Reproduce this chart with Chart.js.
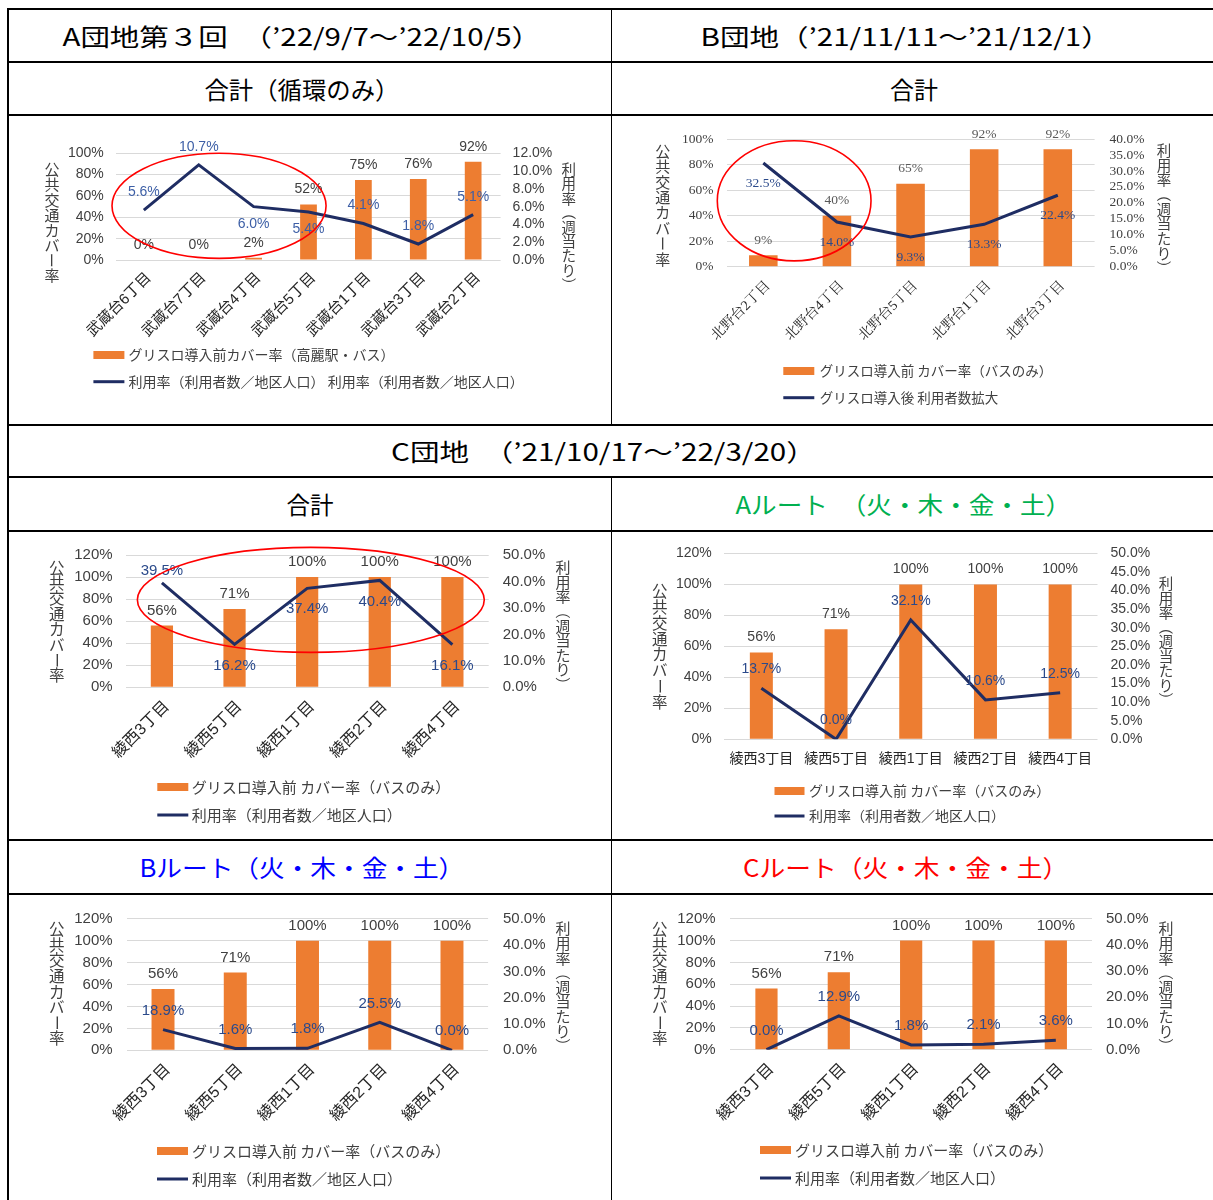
<!DOCTYPE html>
<html><head><meta charset="utf-8">
<script src="https://cdn.jsdelivr.net/npm/chart.js@4.4.1/dist/chart.umd.min.js"></script>
<style>
html,body{margin:0;padding:0;background:#fff;}
#page{position:relative;width:1213px;height:1200px;overflow:hidden;background:#fff;}
canvas{position:absolute;}
.hl{position:absolute;left:7px;width:1206px;height:2px;background:#000;z-index:5;}
.vl{position:absolute;background:#000;z-index:5;}
.hd{position:absolute;white-space:nowrap;font-family:'Noto Sans CJK JP',sans-serif;font-size:24px;line-height:28px;height:28px;transform-origin:center center;z-index:6;}
</style></head><body>
<div id="page">
  <canvas id="cA" width="602" height="308" style="left:9px;top:116px"></canvas>
  <canvas id="cB" width="601" height="308" style="left:612px;top:116px"></canvas>
  <canvas id="cCT" width="602" height="307" style="left:9px;top:532px"></canvas>
  <canvas id="cCA" width="601" height="307" style="left:612px;top:532px"></canvas>
  <canvas id="cCB" width="602" height="305" style="left:9px;top:895px"></canvas>
  <canvas id="cCC" width="601" height="305" style="left:612px;top:895px"></canvas>

  <div class="hl" style="top:8px"></div>
  <div class="hl" style="top:61px"></div>
  <div class="hl" style="top:114px"></div>
  <div class="hl" style="top:424px"></div>
  <div class="hl" style="top:476px"></div>
  <div class="hl" style="top:530px"></div>
  <div class="hl" style="top:839px"></div>
  <div class="hl" style="top:893px"></div>
  <div class="vl" style="left:7px;top:8px;width:2px;height:1192px"></div>
  <div class="vl" style="left:611px;top:9px;width:1px;height:416px"></div>
  <div class="vl" style="left:611px;top:477px;width:1px;height:723px"></div>
</div>
<script>
// ---------------- DATA ----------------
const catsA = ['武蔵台6丁目','武蔵台7丁目','武蔵台4丁目','武蔵台5丁目','武蔵台1丁目','武蔵台3丁目','武蔵台2丁目'];
const coverA = [0, 0, 2, 52, 75, 76, 92];
const usageA = [5.6, 10.7, 6.0, 5.4, 4.1, 1.8, 5.1];

const catsB = ['北野台2丁目','北野台4丁目','北野台5丁目','北野台1丁目','北野台3丁目'];
const coverB = [9, 40, 65, 92, 92];
const usageB = [32.5, 14.0, 9.3, 13.3, 22.4];

const catsC = ['綾西3丁目','綾西5丁目','綾西1丁目','綾西2丁目','綾西4丁目'];
const coverC = [56, 71, 100, 100, 100];
const usageCTotal = [39.5, 16.2, 37.4, 40.4, 16.1];
const usageCRouteA = [13.7, 0.0, 32.1, 10.6, 12.5];
const usageCRouteB = [18.9, 1.6, 1.8, 25.5, 0.0];
const usageCRouteC = [0.0, 12.9, 1.8, 2.1, 3.6];

const legendA = ['グリスロ導入前カバー率（高麗駅・バス）', '利用率（利用者数／地区人口） 利用率（利用者数／地区人口）'];
const legendB = ['グリスロ導入前 カバー率（バスのみ）', 'グリスロ導入後 利用者数拡大'];
const legendC = ['グリスロ導入前 カバー率（バスのみ）', '利用率（利用者数／地区人口）'];
const titleLeft = '公共交通カバー率';
const titleRight = '利用率（週当たり）';

const headers = [
  {t:'A団地第３回　（’22/9/7～’22/10/5）', cx:301, cy:36, w:478, c:'#000'},
  {t:'B団地（’21/11/11～’21/12/1）', cx:905, cy:36, w:410, c:'#000'},
  {t:'合計（循環のみ）', cx:302, cy:89, w:195, c:'#000'},
  {t:'合計', cx:914, cy:89, w:48, c:'#000'},
  {t:'C団地　（’21/10/17～’22/3/20）', cx:603, cy:451, w:425, c:'#000'},
  {t:'合計', cx:310, cy:504, w:47, c:'#000'},
  {t:'Aルート　（火・木・金・土）', cx:903, cy:504, w:336, c:'#00B050'},
  {t:'Bルート（火・木・金・土）', cx:302, cy:867, w:325, c:'#0000FF'},
  {t:'Cルート（火・木・金・土）', cx:905, cy:867, w:325, c:'#FF0000'}
];

// ---------------- STYLE ----------------
const ORANGE = '#ED7D31', NAVY = '#1F2D63', GRID = '#D9D9D9';
const SANS = "'Liberation Sans','Noto Sans CJK JP',sans-serif";
const SERIF = "'Liberation Serif','Noto Serif CJK JP','Noto Sans CJK JP',serif";
const JP = "'Noto Sans CJK JP',sans-serif";

// headers
const page = document.getElementById('page');
headers.forEach(h => {
  const s = document.createElement('div');
  s.className = 'hd'; s.textContent = h.t; s.style.color = h.c;
  page.appendChild(s);
  const w = s.offsetWidth;
  s.style.left = (h.cx - w / 2) + 'px';
  s.style.top = (h.cy - 14) + 'px';
  s.style.transform = 'scaleX(' + (h.w / w) + ')';
});

function vText(ctx, text, x, y0, y1, size, color, family) {
  const chars = [...text], n = chars.length, step = (y1 - y0) / n;
  ctx.save();
  ctx.fillStyle = color; ctx.font = size + 'px ' + family;
  ctx.textAlign = 'center'; ctx.textBaseline = 'middle';
  chars.forEach((c, i) => {
    const cy = y0 + (i + 0.5) * step;
    if ('（）ー'.includes(c)) {
      ctx.save(); ctx.translate(x, cy); ctx.rotate(Math.PI / 2); ctx.fillText(c, 0, 0); ctx.restore();
    } else ctx.fillText(c, x, cy);
  });
  ctx.restore();
}

function makeChart(id, o) {
  const cv = document.getElementById(id);
  const W = cv.width, H = cv.height, A = o.area;
  const overlay = {
    id: 'ov' + id,
    afterDatasetsDraw(chart) {
      const ctx = chart.ctx;
      const lm = chart.getDatasetMeta(0), bm = chart.getDatasetMeta(1);
      ctx.save();
      ctx.textAlign = 'center'; ctx.textBaseline = 'middle';
      ctx.font = o.valSize + 'px ' + o.numFont;
      ctx.fillStyle = o.barValColor;
      bm.data.forEach((el, i) => ctx.fillText(chart.data.datasets[1].data[i] + '%', el.x, el.y - o.barGap));
      ctx.fillStyle = o.lineValColor;
      lm.data.forEach((el, i) => {
        const dy = o.linePos[i] === 'below' ? o.gapBelow : -o.gapAbove;
        ctx.fillText(chart.data.datasets[0].data[i].toFixed(1) + '%', el.x, el.y + dy);
      });
      ctx.restore();
    },
    afterDraw(chart) {
      const ctx = chart.ctx;
      vText(ctx, titleLeft, o.tL.x, o.tL.y0, o.tL.y1, o.tL.s, '#404040', JP);
      vText(ctx, titleRight, o.tR.x, o.tR.y0, o.tR.y1, o.tR.s, '#404040', JP);
      // legend
      const L = o.leg;
      ctx.save();
      ctx.fillStyle = ORANGE;
      ctx.fillRect(L.x0, L.y1 - 4, L.w, 8);
      ctx.strokeStyle = NAVY; ctx.lineWidth = 3;
      ctx.beginPath(); ctx.moveTo(L.x0, L.y2); ctx.lineTo(L.x0 + L.w, L.y2); ctx.stroke();
      ctx.fillStyle = '#404040'; ctx.font = L.s + 'px ' + JP;
      ctx.textAlign = 'left'; ctx.textBaseline = 'middle';
      ctx.fillText(chart.data.datasets[1].label, L.tx, L.y1);
      ctx.fillText(chart.data.datasets[0].label, L.tx, L.y2);
      // annotation ellipse
      if (o.ellipse) {
        const e = o.ellipse, sx = chart.scales.x, sy = chart.scales.y;
        const xa = sx.getPixelForValue(e.x0), xb = sx.getPixelForValue(e.x1);
        const ya = sy.getPixelForValue(e.y1), yb = sy.getPixelForValue(e.y0);
        ctx.beginPath();
        ctx.ellipse((xa + xb) / 2, (ya + yb) / 2, (xb - xa) / 2, (yb - ya) / 2, 0, 0, 2 * Math.PI);
        ctx.strokeStyle = '#FF0000'; ctx.lineWidth = 1.6; ctx.stroke();
      }
      ctx.restore();
    }
  };
  return new Chart(cv, {
    type: 'bar',
    data: {
      labels: o.labels,
      datasets: [
        {type: 'line', label: o.legend[1], data: o.line, yAxisID: o.lineAxis || 'y1',
         borderColor: NAVY, borderWidth: 3, pointRadius: 0, tension: 0, order: 1},
        {type: 'bar', label: o.legend[0], data: o.bars, yAxisID: 'y',
         backgroundColor: ORANGE, barPercentage: o.barPct, categoryPercentage: 1, order: 2}
      ]
    },
    options: {
      responsive: false, animation: false,
      layout: {padding: {top: A.t, left: 0, right: 0, bottom: 0}},
      plugins: {legend: {display: false}, tooltip: {enabled: false}},
      scales: {
        x: {offset: true, grid: {display: false, drawTicks: false}, border: {display: false},
            ticks: {autoSkip: false, minRotation: o.rot, maxRotation: o.rot, padding: o.xPad,
                    labelOffset: o.rot ? o.xOff : 0,
                    color: '#262626', font: {family: o.catFont, size: o.catSize}},
            afterFit: s => { s.height = H - A.b; }},
        y: {position: 'left', min: 0, max: o.yMax,
            ticks: {stepSize: 20, autoSkip: false, padding: o.yPad, callback: v => v + '%', color: '#404040',
                    font: {family: o.numFont, size: o.tickSize}},
            grid: {color: GRID, drawTicks: false}, border: {display: false},
            afterFit: s => { s.width = A.l; }},
        y1: {position: 'right', min: 0, max: o.y1Max,
             ticks: {stepSize: o.y1Step, autoSkip: false, padding: o.y1Pad, callback: v => v.toFixed(1) + '%', color: '#404040',
                     font: {family: o.numFont, size: o.tickSize}},
             grid: {display: false, drawTicks: false}, border: {display: false},
             afterFit: s => { s.width = W - A.r; }}
      }
    },
    plugins: [overlay]
  });
}

const common = {numFont: SANS, catFont: SANS, barValColor: '#404040', lineValColor: '#2B4A8B', barGap: 15};

makeChart('cA', Object.assign({}, common, {
  labels: catsA, bars: coverA, line: usageA, legend: legendA,
  area: {l: 107.4, r: 491.6, t: 37.3, b: 144}, barPct: 0.305,
  yMax: 100, y1Max: 12, y1Step: 2, yPad: 12.6, y1Pad: 12, tickSize: 14,
  rot: 45, xPad: 9, xOff: 5, catSize: 15, valSize: 14, lineValColor: '#3D5FA6',
  linePos: ['above','above','below','below','above','above','above'], gapAbove: 18, gapBelow: 17,
  tL: {x: 43, y0: 46, y1: 167, s: 15}, tR: {x: 559.7, y0: 46, y1: 176, s: 14.5},
  leg: {x0: 84.4, w: 31, tx: 119.6, y1: 239, y2: 265.7, s: 14},
  ellipse: {x0: -0.58, x1: 3.32, y0: 1.5, y1: 100}
}));

makeChart('cB', Object.assign({}, common, {
  labels: catsB, bars: coverB, line: usageB, legend: legendB,
  numFont: SERIF, catFont: SERIF,
  area: {l: 114.5, r: 482.6, t: 20, b: 150.7}, barPct: 0.388,
  yMax: 100, y1Max: 40, y1Step: 5, yPad: 13, y1Pad: 15, tickSize: 13.5,
  rot: 45, xPad: 11, xOff: 5, catSize: 14, valSize: 13.5, barValColor: '#595959',
  linePos: ['below','below','below','below','below'], gapAbove: 18, gapBelow: 20,
  tL: {x: 50.8, y0: 27.3, y1: 150.7, s: 15}, tR: {x: 552, y0: 27.3, y1: 159, s: 14.5},
  leg: {x0: 171.3, w: 31, tx: 207.7, y1: 255, y2: 281.7, s: 13.5},
  ellipse: {x0: -0.625, x1: 1.463, y0: 4.6, y1: 98.7}
}));

makeChart('cCT', Object.assign({}, common, {
  labels: catsC, bars: coverC, line: usageCTotal, legend: legendC,
  area: {l: 116.6, r: 479.7, t: 20.7, b: 155.3}, barPct: 0.306,
  yMax: 120, y1Max: 50, y1Step: 10, yPad: 13, y1Pad: 14, tickSize: 15,
  rot: 45, xPad: 10, xOff: 5, catSize: 16, valSize: 15,
  linePos: ['above','below','below','below','below'], gapAbove: 12, gapBelow: 21,
  tL: {x: 47.7, y0: 28, y1: 151.3, s: 15.5}, tR: {x: 554, y0: 28, y1: 159.7, s: 15},
  leg: {x0: 148.3, w: 31, tx: 182.8, y1: 255, y2: 283, s: 15},
  ellipse: {x0: -0.338, x1: 4.439, y0: 31.7, y1: 126.9}
}));

makeChart('cCA', Object.assign({}, common, {
  labels: catsC, bars: coverC, line: usageCRouteA, legend: legendC,
  area: {l: 112, r: 485.5, t: 20.7, b: 207.3}, barPct: 0.308,
  yMax: 120, y1Max: 50, y1Step: 5, yPad: 12.3, y1Pad: 13, tickSize: 14,
  rot: 0, xPad: 11, xOff: 0, catSize: 14, valSize: 14,
  linePos: ['above','above','above','above','above'], gapAbove: 19, gapBelow: 19,
  tL: {x: 47.7, y0: 51.3, y1: 178, s: 15.5}, tR: {x: 554, y0: 44.7, y1: 174.7, s: 14.5},
  leg: {x0: 162.5, w: 30, tx: 197, y1: 259, y2: 284, s: 14}
}));

makeChart('cCB', Object.assign({}, common, {
  labels: catsC, bars: coverC, line: usageCRouteB, legend: legendC, lineAxis: 'y',
  area: {l: 117.9, r: 479.1, t: 19.7, b: 155.3}, barPct: 0.318,
  yMax: 120, y1Max: 50, y1Step: 10, yPad: 14.3, y1Pad: 14.9, tickSize: 15,
  rot: 45, xPad: 10, xOff: 5, catSize: 16, valSize: 15,
  linePos: ['above','above','above','above','above'], gapAbove: 19, gapBelow: 19,
  tL: {x: 47.7, y0: 26.3, y1: 151.3, s: 15.5}, tR: {x: 554, y0: 26.3, y1: 158, s: 15},
  leg: {x0: 148, w: 31, tx: 183, y1: 256, y2: 284, s: 15}
}));

makeChart('cCC', Object.assign({}, common, {
  labels: catsC, bars: coverC, line: usageCRouteC, legend: legendC,
  area: {l: 118.3, r: 480, t: 19.7, b: 154.7}, barPct: 0.307,
  yMax: 120, y1Max: 50, y1Step: 10, yPad: 14.7, y1Pad: 14, tickSize: 15,
  rot: 45, xPad: 10, xOff: 5, catSize: 16, valSize: 15,
  linePos: ['above','above','above','above','above'], gapAbove: 19, gapBelow: 19,
  tL: {x: 47.7, y0: 26.3, y1: 151.3, s: 15.5}, tR: {x: 554, y0: 26.3, y1: 158, s: 15},
  leg: {x0: 148, w: 31, tx: 183, y1: 255, y2: 283, s: 15}
}));
</script>
</body></html>
